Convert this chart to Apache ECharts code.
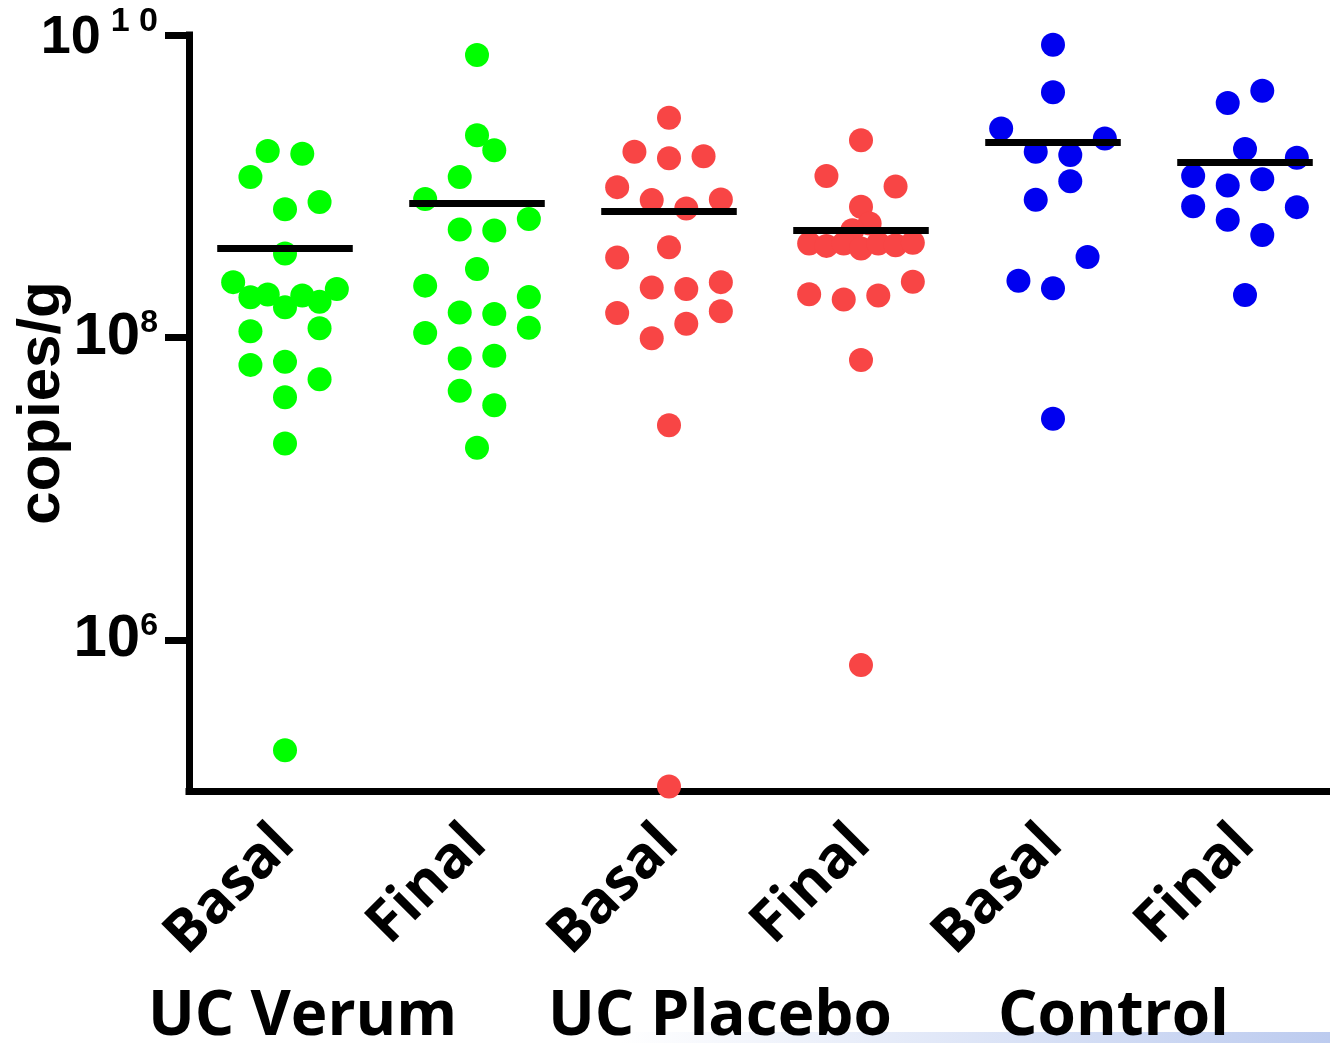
<!DOCTYPE html>
<html>
<head>
<meta charset="utf-8">
<script src="https://cdn.jsdelivr.net/npm/echarts@6/dist/echarts.min.js"></script>
<style>
html,body{margin:0;padding:0;background:#ffffff;}
#chart{width:1330px;height:1043px;}
</style>
</head>
<body>
<div id="chart"></div>
<script>
// ---------------- data ----------------
const categories = ['Basal', 'Final', 'Basal', 'Final', 'Basal', 'Final'];
const groups = ['UC Verum', 'UC Placebo', 'Control'];
const yTickValues = [1e6, 1e8, 1e10];

const verumBasal   = [1.71e9, 1.64e9, 1.15e9, 7.05e8, 7.85e8, 3.59e8, 2.32e8, 1.84e8, 1.92e8, 1.89e8, 1.58e8, 1.72e8, 2.09e8, 1.10e8, 1.15e8, 6.58e7, 6.89e7, 5.29e7, 4.02e7, 1.99e7, 1.86e5];
const verumFinal   = [7.37e9, 2.17e9, 1.73e9, 1.15e9, 8.22e8, 6.06e8, 5.18e8, 5.10e8, 2.83e8, 2.20e8, 1.85e8, 1.46e8, 1.43e8, 1.16e8, 1.07e8, 7.25e7, 7.55e7, 4.43e7, 3.56e7, 1.86e7];
const placeboBasal = [2.84e9, 1.69e9, 1.53e9, 1.58e9, 9.86e8, 8.09e8, 7.13e8, 8.18e8, 3.94e8, 3.38e8, 2.14e8, 2.09e8, 2.32e8, 1.45e8, 9.88e7, 1.23e8, 1.49e8, 2.62e7, 1.07e5];
const placeboFinal = [2.01e9, 1.17e9, 9.97e8, 7.31e8, 5.67e8, 5.12e8, 4.18e8, 4.03e8, 4.18e8, 3.87e8, 4.18e8, 4.07e8, 4.22e8, 1.93e8, 1.78e8, 1.89e8, 2.33e8, 7.08e7, 6.80e5];
const controlBasal = [8.63e9, 4.18e9, 2.41e9, 2.07e9, 1.69e9, 1.61e9, 1.08e9, 8.13e8, 3.40e8, 2.37e8, 2.11e8, 2.90e7];
const controlFinal = [4.28e9, 3.55e9, 1.76e9, 1.54e9, 1.17e9, 1.01e9, 1.11e9, 7.38e8, 7.27e8, 6.00e8, 4.75e8, 1.91e8];
const meanValues   = [3.89e8, 7.76e8, 6.81e8, 5.10e8, 1.94e9, 1.43e9];

// ---------------- swarm slots (horizontal dodge) ----------------
const verumBasalSlot   = [-1, 1, -2, 0, 2, 0, -3, -2, -1, 1, 0, 2, 3, -2, 2, -2, 0, 2, 0, 0, 0];
const verumFinalSlot   = [0, 0, 1, -1, -3, 3, -1, 1, 0, -3, 3, -1, 1, 3, -3, -1, 1, -1, 1, 0];
const placeboBasalSlot = [0, -2, 0, 2, -3, -1, 1, 3, 0, -3, -1, 1, 3, -3, -1, 1, 3, 0, 0];
const placeboFinalSlot = [0, -2, 2, 0, 0.5, -0.5, -3, -2, -1, 0, 1, 2, 3, -3, -1, 1, 3, 0, 0];
const controlBasalSlot = [0, 0, -3, 3, -1, 1, 1, -1, 2, -2, 0, 0];
const controlFinalSlot = [1, -1, 0, 3, -3, -1, 1, -3, 3, -1, 1, 0];

// ---------------- build ----------------
const columns = [verumBasal, verumFinal, placeboBasal, placeboFinal, controlBasal, controlFinal];
const slots = [verumBasalSlot, verumFinalSlot, placeboBasalSlot, placeboFinalSlot, controlBasalSlot, controlFinalSlot];
const colors = ['#00ff00', '#00ff00', '#f84545', '#f84545', '#0000f0', '#0000f0'];
const SLOT = 0.09;        // swarm step in category widths
const MEAN_HALF = 0.353;  // half length of mean bar in category widths
const groupLabelX = [148, 548, 998];

const series = columns.map((vals, i) => ({
  type: 'scatter',
  xAxisIndex: 1,
  yAxisIndex: 0,
  symbol: 'circle',
  symbolSize: 24,
  silent: true,
  z: 2,
  itemStyle: { color: colors[i], opacity: 1 },
  data: vals.map((v, j) => [i + 0.5 + slots[i][j] * SLOT, v])
}));
series.push({
  type: 'lines',
  coordinateSystem: 'cartesian2d',
  xAxisIndex: 1,
  yAxisIndex: 0,
  silent: true,
  z: 5,
  lineStyle: { color: '#000000', width: 7, opacity: 1, curveness: 0 },
  data: meanValues.map((m, i) => ({ coords: [[i + 0.5 - MEAN_HALF, m], [i + 0.5 + MEAN_HALF, m]] }))
});

const numFont = 'Liberation Sans';

const option = {
  animation: false,
  backgroundColor: '#ffffff',
  grid: { left: 189, right: -11, top: 35, bottom: 252, outerBoundsMode: 'none', containLabel: false },
  xAxis: [
    {
      type: 'category',
      data: categories,
      boundaryGap: true,
      position: 'bottom',
      axisLine: { show: true, onZero: false, lineStyle: { color: '#000', width: 7, cap: 'square' } },
      axisTick: { show: false },
      splitLine: { show: false },
      axisLabel: { interval: 0, rotate: 45, margin: 44, fontSize: 58, fontWeight: 'bold', fontFamily: 'Open Sans', color: '#000', hideOverlap: false }
    },
    { type: 'value', min: 0, max: 6, show: false }
  ],
  yAxis: {
    type: 'log',
    logBase: 10,
    min: 1e5,
    max: 1e10,
    axisLine: { show: true, onZero: false, lineStyle: { color: '#000', width: 7, cap: 'square' } },
    axisTick: { show: true, customValues: yTickValues, length: 24, lineStyle: { color: '#000', width: 7 } },
    minorTick: { show: false },
    splitLine: { show: false },
    axisLabel: {
      customValues: yTickValues,
      margin: 31,
      hideOverlap: false,
      formatter: function (v) {
        const e = Math.round(Math.log10(v));
        return e === 10 ? '{b2|10}{s2|1 0}' : '{b|10}{s|' + e + '}';
      },
      rich: {
        b:  { fontSize: 60, fontWeight: 'bold', fontFamily: numFont, color: '#000', verticalAlign: 'bottom', lineHeight: 60 },
        b2: { fontSize: 54, fontWeight: 'bold', fontFamily: numFont, color: '#000', verticalAlign: 'bottom', lineHeight: 60 },
        s:  { fontSize: 32, fontWeight: 'bold', fontFamily: numFont, color: '#000', verticalAlign: 'top', lineHeight: 32 },
        s2: { fontSize: 34, fontWeight: 'bold', fontFamily: numFont, color: '#000', verticalAlign: 'top', lineHeight: 32, padding: [0, 0, 0, 10] }
      }
    },
    name: 'copies/g',
    nameLocation: 'middle',
    nameGap: 117,
    nameMoveOverlap: false,
    nameTextStyle: { fontSize: 60, fontWeight: 'bold', fontFamily: numFont, color: '#000', padding: [0, 0, 0, 20] }
  },
  graphic: [
    {
      type: 'rect',
      z: 0,
      silent: true,
      shape: { x: 620, y: 1032, width: 710, height: 11 },
      style: {
        fill: new echarts.graphic.LinearGradient(0, 0, 1, 0, [
          { offset: 0, color: 'rgba(255,255,255,1)' },
          { offset: 1, color: '#bccbef' }
        ])
      }
    }
  ].concat(groups.map((g, i) => ({
    type: 'text',
    z: 10,
    silent: true,
    x: groupLabelX[i],
    y: 1017,
    style: { text: g, fontSize: 62, fontWeight: 'bold', fontFamily: 'Open Sans', fill: '#000', align: 'left', verticalAlign: 'middle' }
  }))),
  series: series
};

const chart = echarts.init(document.getElementById('chart'), null, { renderer: 'canvas', width: 1330, height: 1043 });
chart.setOption(option);
</script>
</body>
</html>
